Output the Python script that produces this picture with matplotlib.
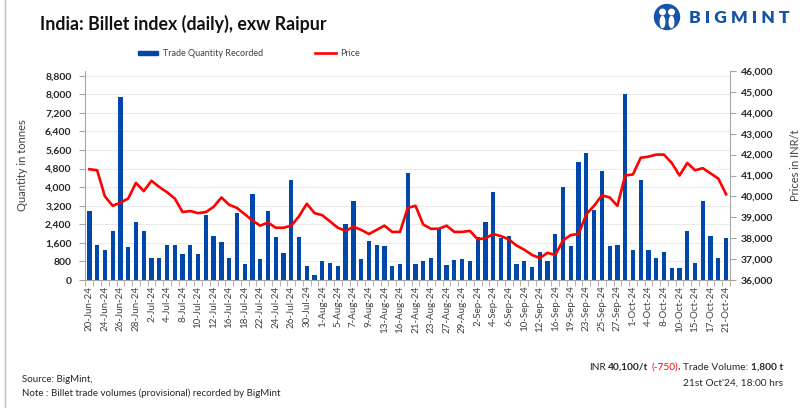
import numpy as np
import matplotlib
matplotlib.use('Agg')
import matplotlib.pyplot as plt
from matplotlib.patches import Ellipse, Rectangle
from matplotlib.lines import Line2D
from matplotlib.ticker import FuncFormatter

plt.rcParams['font.family'] = ['Lato', 'DejaVu Sans']

# every other trading day is labelled on the category axis
tick_labels = ['20-Jun-24', '24-Jun-24', '26-Jun-24', '28-Jun-24', '2-Jul-24', '4-Jul-24',
               '8-Jul-24', '10-Jul-24', '12-Jul-24', '16-Jul-24', '18-Jul-24', '22-Jul-24',
               '24-Jul-24', '26-Jul-24', '30-Jul-24', '1-Aug-24', '5-Aug-24', '7-Aug-24',
               '9-Aug-24', '13-Aug-24', '16-Aug-24', '21-Aug-24', '23-Aug-24', '27-Aug-24',
               '29-Aug-24', '2-Sep-24', '4-Sep-24', '6-Sep-24', '10-Sep-24', '12-Sep-24',
               '16-Sep-24', '19-Sep-24', '23-Sep-24', '25-Sep-24', '27-Sep-24', '1-Oct-24',
               '4-Oct-24', '8-Oct-24', '10-Oct-24', '15-Oct-24', '17-Oct-24', '21-Oct-24']

# trade quantity recorded, tonnes
quantity = [2950, 1500, 1300, 2100, 7900, 1400, 2500, 2100, 950, 950,
            1500, 1500, 1100, 1500, 1100, 2800, 1900, 1650, 950, 2900,
            700, 3700, 900, 2950, 1850, 1150, 4300, 1850, 600, 200,
            800, 750, 600, 2400, 3400, 900, 1700, 1500, 1450, 600,
            700, 4600, 700, 800, 950, 2200, 650, 850, 900, 800,
            1850, 2500, 3800, 1800, 1900, 700, 800, 550, 1200, 800,
            2000, 4000, 1450, 5100, 5450, 3000, 4700, 1450, 1500, 8000,
            1300, 4300, 1300, 950, 1200, 500, 500, 2100, 750, 3400,
            1900, 950, 1800]

# billet price, INR/t
price = [41300, 41250, 40000, 39550, 39700, 39900, 40650, 40250, 40750, 40450,
         40200, 39900, 39250, 39300, 39200, 39250, 39500, 39950, 39600, 39450,
         39150, 38850, 38600, 38750, 38500, 38500, 38600, 39050, 39650, 39200,
         39100, 38800, 38500, 38350, 38550, 38400, 38200, 38400, 38600, 38300,
         38300, 39450, 39550, 38650, 38450, 38450, 38600, 38300, 38300, 38350,
         37950, 38000, 38200, 38100, 37950, 37650, 37450, 37200, 37050, 37300,
         37200, 37900, 38150, 38200, 39150, 39550, 40050, 39950, 39550, 41000,
         41050, 41850, 41900, 42000, 42000, 41600, 41000, 41600, 41250, 41350,
         41100, 40850, 40100]

W, H = 804, 408
blue = '#0047AB'
red = '#FF0000'
axis_grey = '#A6A6A6'
txt = '#262626'
logo_blue = '#1554A8'

n = len(quantity)
x = np.arange(n)

fig = plt.figure(figsize=(W / 100, H / 100), dpi=100)
ax = fig.add_axes([85.5 / W, 1 - 280 / H, (730 - 85.5) / W, (280 - 71) / H])
ax2 = ax.twinx()

ax.bar(x, quantity, width=0.55, color=blue, zorder=2)
ax2.plot(x, price, color=red, lw=1.9, solid_joinstyle='round')

ax.set_xlim(-0.5, n - 0.5)
ax.set_ylim(0, 9000)
ax.set_yticks(np.arange(0, 8801, 800))
ax.yaxis.set_major_formatter(FuncFormatter(lambda v, p: f'{v:,.0f}'))
ax2.set_ylim(36000, 46000)
ax2.set_yticks(np.arange(36000, 46001, 1000))
ax2.yaxis.set_major_formatter(FuncFormatter(lambda v, p: f'{v:,.0f}'))

ax.set_xticks(x[::2])
ax.set_xticklabels(tick_labels, rotation=90, fontsize=7, color='#404040')
ax.set_xticks(np.arange(-0.5, n, 1), minor=True)
ax.tick_params(axis='x', which='major', length=0, pad=4)
ax.tick_params(axis='x', which='minor', length=4, color=axis_grey)

ax.yaxis.grid(True, color='#EBEBEB', lw=0.8, zorder=0)
ax.set_axisbelow(True)

for a in (ax, ax2):
    a.spines['top'].set_visible(False)
    for s in ('left', 'right', 'bottom'):
        a.spines[s].set_color(axis_grey)
        a.spines[s].set_linewidth(0.8)
ax.spines['right'].set_visible(False)
ax2.spines['left'].set_visible(False)
ax2.spines['bottom'].set_visible(False)

ax.tick_params(axis='y', length=4, color=axis_grey, pad=6)
ax2.tick_params(axis='y', length=4, color=axis_grey, pad=4)
for lab in ax.get_yticklabels() + ax2.get_yticklabels():
    lab.set_fontsize(7.5)
    lab.set_fontweight('bold')
    lab.set_color(txt)

ax.set_ylabel('Quantity in tonnes', fontsize=8, color='#404040')
ax.yaxis.set_label_coords((28 - 85.5) / (730 - 85.5), 0.55)
ax2.set_ylabel('Prices in INR/t', fontsize=8, color='#404040')
ax2.yaxis.set_label_coords((790 - 85.5) / (730 - 85.5), 0.55)

# title
fig.text(40 / W, 1 - 24 / H, 'India: Billet index (daily), exw Raipur', fontsize=12.8,
         fontweight='bold', color='#111111', va='center', ha='left')

# legend
fig.patches.append(Rectangle((138 / W, 1 - 55 / H), 20 / W, 4 / H, transform=fig.transFigure,
                             color=blue, figure=fig))
fig.text(163 / W, 1 - 53 / H, 'Trade Quantity Recorded', fontsize=6.5, color='#404040', va='center')
fig.lines.append(Line2D([315 / W, 336 / W], [1 - 53 / H, 1 - 53 / H], transform=fig.transFigure,
                        color=red, lw=1.9, figure=fig))
fig.text(340 / W, 1 - 53 / H, 'Price', fontsize=6.5, color='#404040', va='center')

# logo
def ell(px, py, w, h, c):
    fig.patches.append(Ellipse((px / W, 1 - py / H), w / W, h / H, transform=fig.transFigure,
                               color=c, figure=fig))

cx, cy = 667, 17
ell(cx, cy, 25, 25, logo_blue)
for dx in (-4.5, 4.5):
    ell(cx + dx, cy - 5, 5.5, 5.5, 'white')
    ell(cx + dx, cy + 5, 4.5, 11, 'white')
fig.text(689 / W, 1 - 18 / H, 'B I G M I N T', fontsize=12.6, fontweight='heavy',
         color=logo_blue, va='center', ha='left')

# left frame edge
fig.lines.append(Line2D([5 / W, 5 / W], [0, 1], transform=fig.transFigure,
                        color='#BFBFBF', lw=1, figure=fig))

# footer
fig.text(22 / W, 1 - 379 / H, 'Source: BigMint,', fontsize=7, color=txt, va='center')
fig.text(22 / W, 1 - 393 / H, 'Note : Billet trade volumes (provisional) recorded by BigMint',
         fontsize=7, color=txt, va='center')

renderer = fig.canvas.get_renderer()
fs = 7.3

def width_px(s, weight):
    t = fig.text(0, 0, s, fontsize=fs, fontweight=weight)
    w = t.get_window_extent(renderer).width
    t.remove()
    return w

space = width_px('a a', 'normal') - width_px('aa', 'normal')
pieces = [('INR', 'normal', txt, 0), ('40,100/t', 'bold', txt, 1), ('(-750)', 'normal', red, 1),
          (',', 'bold', txt, 0), ('Trade Volume:', 'normal', txt, 1), ('1,800 t', 'bold', txt, 1)]
widths = [width_px(s, w) for s, w, c, g in pieces]
total = sum(widths) + space * sum(g for s, w, c, g in pieces)
xpos = 783 - total
for (s, w, c, g), wd in zip(pieces, widths):
    xpos += g * space
    fig.text(xpos / W, 1 - 367 / H, s, fontsize=fs, fontweight=w, color=c, va='center', ha='left')
    xpos += wd
fig.text(783 / W, 1 - 383 / H, "21st Oct'24, 18:00 hrs", fontsize=fs, color=txt,
         va='center', ha='right')

fig.savefig('out.png', dpi=100)
